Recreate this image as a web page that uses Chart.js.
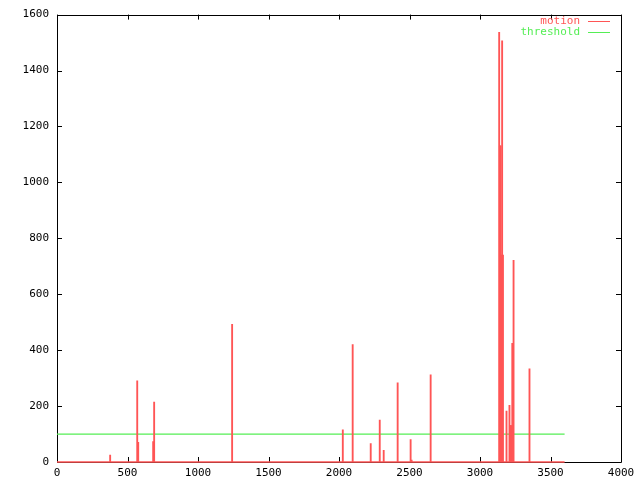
<!DOCTYPE html>
<html>
<head>
<meta charset="utf-8">
<script src="https://cdn.jsdelivr.net/npm/chart.js@4"></script>
<style>
  html, body { margin: 0; padding: 0; background: #fff; }
</style>
</head>
<body>
<canvas id="chart" width="640" height="480"></canvas>
<script>
// frame numbers with non-zero motion and the motion value at each
const frames = [377, 569, 576, 682, 689, 1242, 2027, 2097, 2225, 2289, 2317, 2416, 2508, 2515, 2650,
    3136, 3141, 3146, 3150, 3157, 3163, 3188, 3209, 3213, 3218, 3223, 3229, 3238, 3351];
const motion = [25, 290, 70, 73, 214, 492, 115, 420, 66, 150, 42, 283, 80, 7, 312,
    1537, 1131, 1131, 740, 1506, 740, 182, 203, 130, 130, 130, 424, 721, 333];
const frameRange = [0, 3600];
const threshold = 100;
const xTicks = [0, 500, 1000, 1500, 2000, 2500, 3000, 3500, 4000];
const yTicks = [0, 200, 400, 600, 800, 1000, 1200, 1400, 1600];

const RED = '#ff5555';
const GREEN = '#55ee55';
const FONT = { family: 'DejaVu Sans Mono', size: 11 };

// gnuplot style frame with inward ticks on all four sides
const frame = {
    id: 'frame',
    beforeDatasetsDraw(chart) {
        const { ctx, chartArea: a, scales: { x, y } } = chart;
        ctx.save();
        ctx.strokeStyle = '#000';
        ctx.lineWidth = 1;
        ctx.beginPath();
        ctx.rect(Math.round(a.left) + 0.5, Math.round(a.top) + 0.5,
            Math.round(a.right - a.left), Math.round(a.bottom - a.top));
        xTicks.forEach(v => {
            const px = Math.round(x.getPixelForValue(v)) + 0.5;
            ctx.moveTo(px, a.bottom); ctx.lineTo(px, a.bottom - 5);
            ctx.moveTo(px, a.top); ctx.lineTo(px, a.top + 5);
        });
        yTicks.forEach(v => {
            const py = Math.round(y.getPixelForValue(v)) + 0.5;
            ctx.moveTo(a.left, py); ctx.lineTo(a.left + 5, py);
            ctx.moveTo(a.right, py); ctx.lineTo(a.right - 5, py);
        });
        ctx.stroke();
        ctx.restore();
    }
};

// key in the top right corner: label then line sample
const key = {
    id: 'key',
    afterDraw(chart) {
        const { ctx } = chart;
        ctx.save();
        ctx.font = '11px "DejaVu Sans Mono"';
        ctx.textAlign = 'right';
        ctx.textBaseline = 'middle';
        let row = 0;
        chart.data.datasets.forEach(ds => {
            if (!ds.label) return;
            const yy = 21.5 + row * 11;
            ctx.fillStyle = ds.borderColor;
            ctx.fillText(ds.label, 580, yy);
            ctx.strokeStyle = ds.borderColor;
            ctx.lineWidth = 1;
            ctx.beginPath();
            ctx.moveTo(588, yy); ctx.lineTo(610, yy);
            ctx.stroke();
            row++;
        });
        ctx.restore();
    }
};

new Chart(document.getElementById('chart'), {
    type: 'bar',
    data: {
        datasets: [{
            label: 'motion',
            data: frames.map((f, i) => ({ x: f, y: motion[i] })),
            backgroundColor: RED,
            borderColor: RED,
            borderWidth: 0,
            barThickness: 1.2,
            order: 2
        }, {
            type: 'line',
            label: '',
            data: frameRange.map(f => ({ x: f, y: 0 })),
            borderColor: RED,
            borderWidth: 1.5,
            pointRadius: 0,
            clip: false,
            order: 1
        }, {
            type: 'line',
            label: 'threshold',
            data: frameRange.map(f => ({ x: f, y: threshold })),
            borderColor: GREEN,
            borderWidth: 1.2,
            pointRadius: 0,
            order: 3
        }]
    },
    options: {
        responsive: false,
        animation: false,
        layout: { padding: { top: 5, right: 19, left: 0, bottom: 0 } },
        plugins: {
            legend: { display: false },
            tooltip: { enabled: false }
        },
        scales: {
            x: {
                type: 'linear',
                offset: false,
                min: 0,
                max: 4000,
                grid: { display: false, drawTicks: false, offset: false },
                border: { display: false },
                afterBuildTicks: s => { s.ticks = xTicks.map(v => ({ value: v })); },
                afterFit: s => { s.height = 18; },
                ticks: { color: '#000', font: FONT, padding: 5, maxRotation: 0, autoSkip: false,
                    callback: v => String(v) }
            },
            y: {
                min: 0,
                max: 1600,
                grid: { display: false, drawTicks: false },
                border: { display: false },
                afterBuildTicks: s => { s.ticks = yTicks.map(v => ({ value: v })); },
                afterFit: s => { s.width = 57; },
                ticks: { color: '#000', font: FONT, padding: 8, callback: v => String(v) }
            }
        }
    },
    plugins: [frame, key]
});
</script>
</body>
</html>
